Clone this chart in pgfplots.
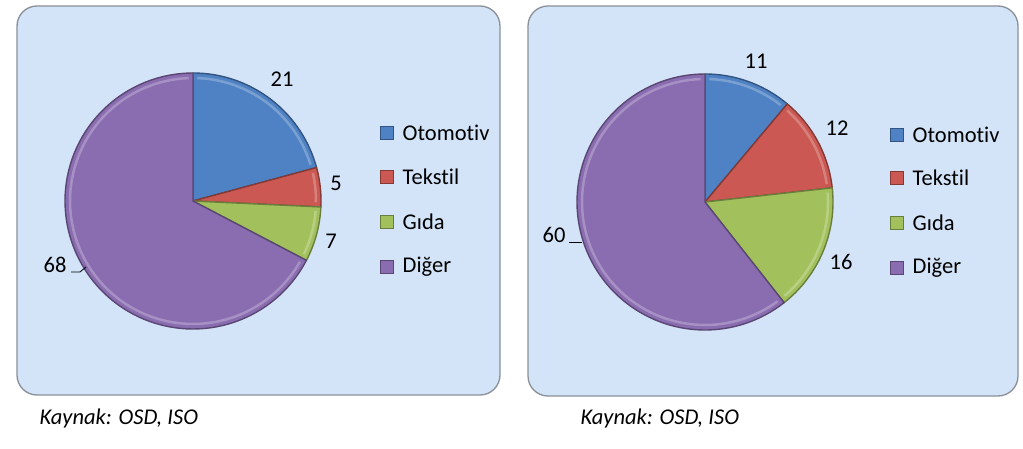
\documentclass[border=0pt]{standalone}
\usepackage{fontspec}
\setmainfont{Carlito}[Ligatures=NoCommon]
\usepackage{pgfplots}
\pgfplotsset{compat=1.18}
\definecolor{cblue}{HTML}{4F82C4}
\definecolor{cred}{HTML}{CB5852}
\definecolor{cgreen}{HTML}{A2C15C}
\definecolor{cpurple}{HTML}{8A6CB0}
\definecolor{panel}{HTML}{D3E4F9}
\definecolor{border}{HTML}{8A9098}
% #1 cx, #2 cy, #3 r, #4 cumulative before, #5 cumulative after, #6 total, #7 colour
\newcommand{\slice}[7]{%
  \addplot[fill=#7, draw=#7!65!black, line width=1.4pt, line join=round,
    domain={90-360*#5/#6}:{90-360*#4/#6}, samples=90, variable=\t]
    ({#1+#3*cos(t)},{#2+#3*sin(t)}) -- (axis cs:#1,#2) -- cycle;
  \addplot[draw=#7!55!white, line width=2.5pt, opacity=0.55,
    domain={90-360*#5/#6+2}:{90-360*#4/#6-2}, samples=90, variable=\t]
    ({#1+(#3-5)*cos(t)},{#2+(#3-5)*sin(t)});}
\begin{document}
\fontsize{22.5}{26}\selectfont
\begin{tikzpicture}
\begin{axis}[
  at={(0,0)}, anchor=south west,
  scale only axis, width=1023pt, height=448pt,
  xmin=0, xmax=1023, ymin=0, ymax=448,
  hide axis, clip=false,
]
\path (axis cs:0,0) rectangle (axis cs:1023,448);
% panels
\draw[rounded corners=20pt, fill=panel, draw=border, line width=1.3pt] (axis cs:17,442) rectangle (axis cs:500,53);
\draw[rounded corners=20pt, fill=panel, draw=border, line width=1.3pt] (axis cs:528,442) rectangle (axis cs:1018,52);
% left pie: Otomotiv 21, Tekstil 5, Gida 7, Diger 68
\slice{193}{247}{128}{0}{21}{101}{cblue}
\slice{193}{247}{128}{21}{26}{101}{cred}
\slice{193}{247}{128}{26}{33}{101}{cgreen}
\slice{193}{247}{128}{33}{101}{101}{cpurple}
% right pie: Otomotiv 11, Tekstil 12, Gida 16, Diger 60
\slice{705}{246}{128}{0}{11}{99}{cblue}
\slice{705}{246}{128}{11}{23}{99}{cred}
\slice{705}{246}{128}{23}{39}{99}{cgreen}
\slice{705}{246}{128}{39}{99}{99}{cpurple}
% data labels
\node at (axis cs:282,369) {21};
\node at (axis cs:336,265) {5};
\node at (axis cs:331,207) {7};
\node at (axis cs:55,183) {68};
\draw[black, line width=0.8pt] (axis cs:71,176) -- (axis cs:80,176) -- (axis cs:86,181);
\node at (axis cs:756,387) {11};
\node at (axis cs:837,320) {12};
\node at (axis cs:841,186) {16};
\node at (axis cs:554,213) {60};
\draw[black, line width=0.8pt] (axis cs:569,206) -- (axis cs:582,206);
% legends
\addplot[only marks, mark=square*, mark size=6.5pt, draw=cblue!65!black, fill=cblue] coordinates {(387,315) (897,313)};
\addplot[only marks, mark=square*, mark size=6.5pt, draw=cred!65!black, fill=cred] coordinates {(387,271) (897,270)};
\addplot[only marks, mark=square*, mark size=6.5pt, draw=cgreen!65!black, fill=cgreen] coordinates {(387,226) (897,225)};
\addplot[only marks, mark=square*, mark size=6.5pt, draw=cpurple!65!black, fill=cpurple] coordinates {(387,181) (897,180)};
\node[anchor=west] at (axis cs:395,315) {Otomotiv};
\node[anchor=west] at (axis cs:395,271) {Tekstil};
\node[anchor=west] at (axis cs:395,226) {Gıda};
\node[anchor=west] at (axis cs:395,181) {Diğer};
\node[anchor=west] at (axis cs:905,313) {Otomotiv};
\node[anchor=west] at (axis cs:905,270) {Tekstil};
\node[anchor=west] at (axis cs:905,225) {Gıda};
\node[anchor=west] at (axis cs:905,180) {Diğer};
% source notes
\node[anchor=west, font=\itshape] at (axis cs:32,30) {Kaynak: OSD, ISO};
\node[anchor=west, font=\itshape] at (axis cs:573,30) {Kaynak: OSD, ISO};
\end{axis}
\end{tikzpicture}
\end{document}
